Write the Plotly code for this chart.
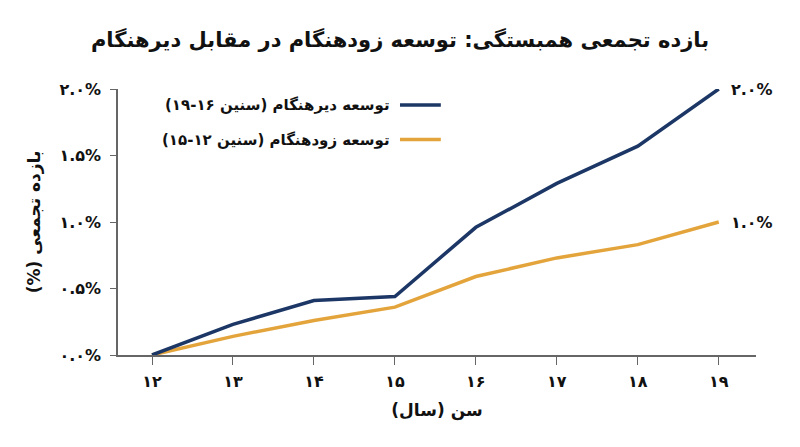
import plotly.graph_objects as go

# داده‌ها
ages = [12, 13, 14, 15, 16, 17, 18, 19]
age_labels = ["۱۲", "۱۳", "۱۴", "۱۵", "۱۶", "۱۷", "۱۸", "۱۹"]
late_dev = [0.0, 0.23, 0.41, 0.44, 0.96, 1.29, 1.57, 2.0]
early_dev = [0.0, 0.14, 0.26, 0.36, 0.59, 0.73, 0.83, 1.0]
y_ticks = [0.0, 0.5, 1.0, 1.5, 2.0]
y_tick_labels = ["۰.۰%", "۰.۵%", "۱.۰%", "۱.۵%", "۲.۰%"]
end_labels = ["۲.۰%", "۱.۰%"]

RLM = "\u200f"
late_name = RLM + "توسعه دیرهنگام (سنین ۱۶-۱۹)" + RLM
early_name = RLM + "توسعه زودهنگام (سنین ۱۲-۱۵)" + RLM

NAVY = "#1c3766"
GOLD = "#e4a43c"
FONT = "DejaVu Sans"

fig = go.Figure()
fig.add_trace(go.Scatter(x=ages, y=early_dev, mode="lines", name=early_name,
                         line=dict(color=GOLD, width=3.5), cliponaxis=False))
fig.add_trace(go.Scatter(x=ages, y=late_dev, mode="lines", name=late_name,
                         line=dict(color=NAVY, width=3.5), cliponaxis=False))

# برچسب انتهای خطوط
for series, txt in [(late_dev, end_labels[0]), (early_dev, end_labels[1])]:
    fig.add_annotation(x=ages[-1], y=series[-1], text=txt, showarrow=False,
                       xanchor="left", xshift=10,
                       font=dict(family=FONT, size=16, color="#111", weight="bold"))

# راهنمای دستی (نماد در سمت راست متن)
for name, color, yp in [(late_name, NAVY, 0.94), (early_name, GOLD, 0.81)]:
    fig.add_shape(type="line", xref="paper", yref="paper",
                  x0=0.442, x1=0.506, y0=yp, y1=yp,
                  line=dict(color=color, width=3.5))
    fig.add_annotation(xref="paper", yref="paper", x=0.43, y=yp, text=name,
                       showarrow=False, xanchor="right", yanchor="middle",
                       font=dict(family=FONT, size=15, color="#111", weight="bold"))

fig.update_layout(
    width=800, height=447,
    margin=dict(l=110, r=52, t=81, b=100),
    plot_bgcolor="white", paper_bgcolor="white",
    showlegend=False,
    title=dict(text="بازده تجمعی همبستگی: توسعه زودهنگام در مقابل دیرهنگام",
               x=0.49, xanchor="center", y=0.93, yanchor="middle",
               font=dict(family=FONT, size=21, color="#111", weight="bold")),
    xaxis=dict(range=[11.58, 19.46], tickvals=ages, ticktext=age_labels,
               showgrid=False, zeroline=False, showline=True,
               linecolor="#666", linewidth=1.5, ticks="outside", ticklen=8,
               tickcolor="#666", ticklabelstandoff=3,
               tickfont=dict(family=FONT, size=16, color="#111", weight="bold"),
               title=dict(text=RLM + "سن (سال)" + RLM,
                          font=dict(family=FONT, size=17, color="#111", weight="bold"),
                          standoff=14)),
    yaxis=dict(range=[0, 2.0], tickvals=y_ticks, ticktext=y_tick_labels,
               showgrid=False, zeroline=False, showline=True,
               linecolor="#666", linewidth=1.5, ticks="outside", ticklen=6,
               tickcolor="#666", ticklabelstandoff=6,
               tickfont=dict(family=FONT, size=16, color="#111", weight="bold"),
               title=dict(text=RLM + "بازده تجمعی (%)" + RLM,
                          font=dict(family=FONT, size=17, color="#111", weight="bold"),
                          standoff=14)),
)

fig.write_html("out.html")
